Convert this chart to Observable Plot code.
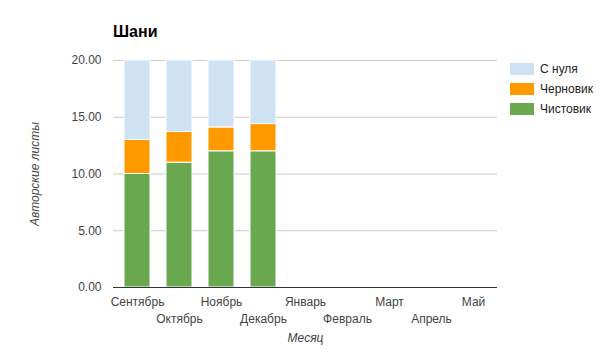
<!DOCTYPE html>
<html>
<head>
<meta charset="utf-8">
<script src="https://cdn.jsdelivr.net/npm/d3@7"></script>
<script src="https://cdn.jsdelivr.net/npm/@observablehq/plot@0.6"></script>
<style>
  html, body { margin: 0; padding: 0; background: #fff; }
  body { font-family: "Liberation Sans", Arial, sans-serif; }
  #wrap { position: relative; width: 605px; height: 352px; overflow: hidden; }
  #title { position: absolute; left: 113px; top: 23px; font-size: 16px; font-weight: bold; color: #000; }
  #legend { position: absolute; left: 510px; top: 59px; font-size: 12px; color: #222; }
  .item { display: flex; align-items: center; height: 20px; }
  .sw { width: 24px; height: 12px; margin-right: 6px; }
  #chart { position: absolute; left: 0; top: 0; }
</style>
</head>
<body>
<div id="wrap">
  <div id="chart"></div>
  <div id="title"></div>
  <div id="legend"></div>
</div>
<script>
const chartTitle = "Шани";
const months = ["Сентябрь", "Октябрь", "Ноябрь", "Декабрь", "Январь", "Февраль", "Март", "Апрель", "Май"];
const seriesNames = ["С нуля", "Черновик", "Чистовик"];
const seriesColors = ["#cfe2f3", "#ff9900", "#6aa84f"];
const dataMonths = ["Сентябрь", "Октябрь", "Ноябрь", "Декабрь"];
const chistovik = [10, 11, 12, 12];
const chernovik = [3, 2.7, 2.1, 2.4];
const sNulya = [7, 6.3, 5.9, 5.6];
const yTicks = [0, 5, 10, 15, 20];
const yLabel = "Авторские листы";
const xLabel = "Месяц";

const rows = [];
dataMonths.forEach((m, i) => {
  rows.push({month: m, series: "Чистовик", value: chistovik[i]});
  rows.push({month: m, series: "Черновик", value: chernovik[i]});
  rows.push({month: m, series: "С нуля", value: sNulya[i]});
});

const stackOrder = ["Чистовик", "Черновик", "С нуля"];
const evenMonths = months.filter((d, i) => i % 2 === 0);
const oddMonths = months.filter((d, i) => i % 2 === 1);

const chart = Plot.plot({
  width: 605,
  height: 352,
  marginLeft: 113,
  marginRight: 108,
  marginTop: 60,
  marginBottom: 65,
  style: {fontFamily: "'Liberation Sans', Arial, sans-serif", fontSize: "12px", color: "#444", background: "transparent"},
  x: {domain: months, paddingInner: 0.39, paddingOuter: 0.195, label: null},
  y: {domain: [0, 20], label: null},
  color: {domain: seriesNames, range: seriesColors},
  marks: [
    Plot.gridY(yTicks.slice(1), {stroke: "#cccccc", strokeOpacity: 1}),
    Plot.barY(rows, {x: "month", y: "value", fill: "series", order: stackOrder, stroke: "white", strokeWidth: 1}),
    Plot.ruleY([0], {stroke: "#333"}),
    Plot.axisY(yTicks, {tickSize: 0, tickPadding: 12, tickFormat: d3.format(".2f"), fill: "#444", label: null}),
    Plot.axisX(evenMonths, {tickSize: 0, tickPadding: 10, fill: "#444", label: null}),
    Plot.axisX(oddMonths, {tickSize: 0, tickPadding: 27, fill: "#444", label: null}),
    Plot.text([xLabel], {frameAnchor: "bottom", dy: 54, fontStyle: "italic", fill: "#444"}),
    Plot.text([yLabel], {frameAnchor: "left", dx: -78, rotate: -90, textAnchor: "middle", fontStyle: "italic", fill: "#444"})
  ]
});
document.getElementById("chart").appendChild(chart);
document.getElementById("title").textContent = chartTitle;

const legend = document.getElementById("legend");
seriesNames.forEach((n, i) => {
  const it = document.createElement("div");
  it.className = "item";
  const sw = document.createElement("div");
  sw.className = "sw";
  sw.style.background = seriesColors[i];
  const t = document.createElement("span");
  t.textContent = n;
  it.appendChild(sw);
  it.appendChild(t);
  legend.appendChild(it);
});
</script>
</body>
</html>
